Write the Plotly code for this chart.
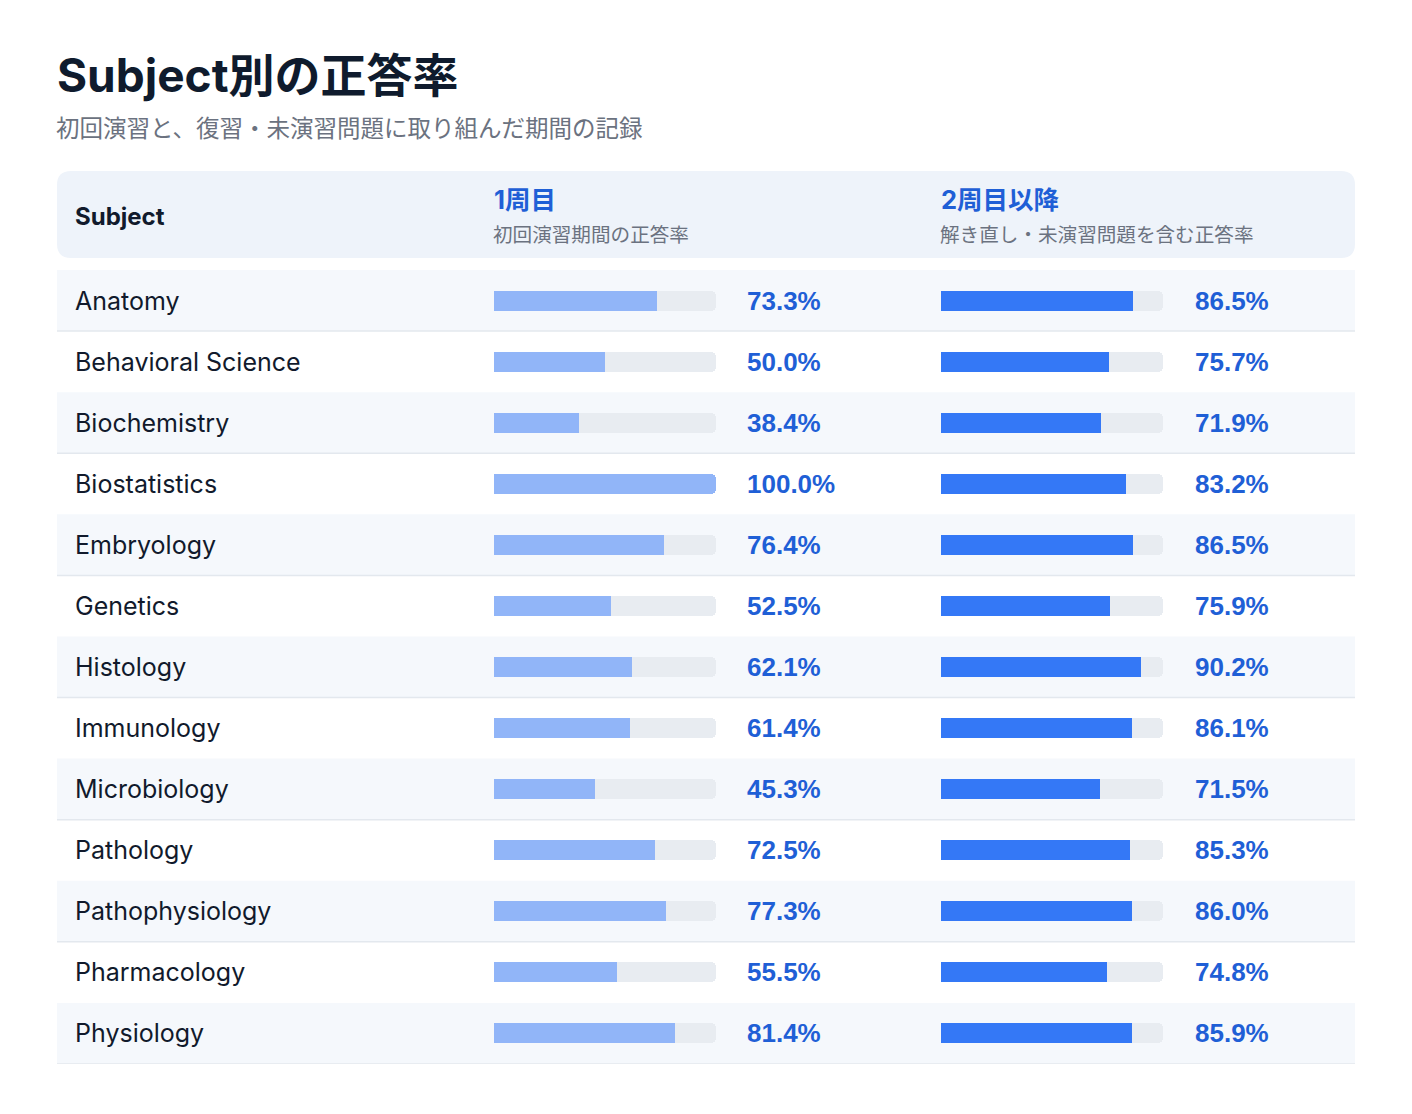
import plotly.graph_objects as go

W, H = 1412, 1114
OFF = 8  # the page body keeps an 8px margin round the figure

subjects = [
    "Anatomy", "Behavioral Science", "Biochemistry", "Biostatistics", "Embryology",
    "Genetics", "Histology", "Immunology", "Microbiology", "Pathology",
    "Pathophysiology", "Pharmacology", "Physiology",
]
first_round = [73.3, 50.0, 38.4, 100.0, 76.4, 52.5, 62.1, 61.4, 45.3, 72.5, 77.3, 55.5, 81.4]
later_rounds = [86.5, 75.7, 71.9, 83.2, 86.5, 75.9, 90.2, 86.1, 71.5, 85.3, 86.0, 74.8, 85.9]

title = "Subject別の正答率"
subtitle = "初回演習と、復習・未演習問題に取り組んだ期間の記録"
col_headers = ["1周目", "2周目以降"]
col_notes = ["初回演習期間の正答率", "解き直し・未演習問題を含む正答率"]

FONT = "Inter, 'Noto Sans CJK JP', sans-serif"
JP = "'Noto Sans CJK JP', Inter, sans-serif"
NUM = "'Liberation Sans', Arial, sans-serif"
DARK = "#111a2c"
GRAY = "#6b7280"
BLUE_TXT = "#1f5fd6"
TRACK = "#e8ecf1"
C1 = "#91b5f8"
C2 = "#3478f6"

FW, FH = W - 2 * OFF, H - 2 * OFF
PAD = 2  # annotation box padding, taken off text x positions


def px(x):
    return (x - OFF) / FW


def py(y):
    return 1 - (y - OFF) / FH


def round_rect(x0, y0, x1, y1, r):
    # rounded rectangle path in paper coords, built from pixel values
    rx, ry = r / FW, r / FH
    X0, X1, Y0, Y1 = px(x0), px(x1), py(y0), py(y1)
    return (
        f"M {X0 + rx},{Y0} L {X1 - rx},{Y0} Q {X1},{Y0} {X1},{Y0 - ry} "
        f"L {X1},{Y1 + ry} Q {X1},{Y1} {X1 - rx},{Y1} "
        f"L {X0 + rx},{Y1} Q {X0},{Y1} {X0},{Y1 + ry} "
        f"L {X0},{Y0 - ry} Q {X0},{Y0} {X0 + rx},{Y0} Z"
    )


n = len(subjects)
rows_top, rows_bottom = 270, 1064
bar_w = 20 / ((rows_bottom - rows_top) / n)

fig = go.Figure()
for axis, vals, color in [("x", first_round, C1), ("x2", later_rounds, C2)]:
    fig.add_trace(go.Bar(
        x=[100] * n, y=subjects, orientation="h", xaxis=axis, yaxis="y",
        width=bar_w, marker=dict(color=TRACK, cornerradius=5, line_width=0),
        hoverinfo="skip", showlegend=False,
    ))
    fig.add_trace(go.Bar(
        x=vals, y=subjects, orientation="h", xaxis=axis, yaxis="y",
        width=bar_w, marker=dict(color=color, cornerradius=5, line_width=0),
        showlegend=False,
    ))

shapes = [dict(type="path", xref="paper", yref="paper", path=round_rect(57, 171, 1355, 258, 14),
               fillcolor="#eef3fa", line_width=0, layer="below")]
for i in range(0, n, 2):
    shapes.append(dict(type="rect", xref="paper", yref="y", x0=px(57), x1=px(1355),
                       y0=i - 0.5, y1=i + 0.5, fillcolor="#f5f8fc", line_width=0, layer="below"))
    shapes.append(dict(type="line", xref="paper", yref="y", x0=px(57), x1=px(1355),
                       y0=i + 0.5, y1=i + 0.5, line=dict(color="#e3e8ee", width=1.5), layer="below"))

ann = [
    dict(text=f"<b>{title}</b>", x=px(55), y=py(75), font=dict(size=46, color="#0f1b2d", family=FONT)),
    dict(text=subtitle, x=px(56 - PAD), y=py(127), font=dict(size=23.5, color=GRAY, family=JP)),
    dict(text="<b>Subject</b>", x=px(75 - PAD), y=py(216), font=dict(size=24, color=DARK, family=FONT)),
]
for cx, head, note in zip([494, 941], col_headers, col_notes):
    ann.append(dict(text=f"<b>{head}</b>", x=px(cx - PAD), y=py(199), font=dict(size=25.5, color=BLUE_TXT, family=FONT)))
    ann.append(dict(text=note, x=px(cx - 1 - PAD), y=py(233), font=dict(size=19.6, color=GRAY, family=JP)))
for s, a, b in zip(subjects, first_round, later_rounds):
    ann.append(dict(text=s, x=px(75 - PAD), y=s, yref="y", font=dict(size=25, color=DARK, family=FONT)))
    ann.append(dict(text=f"<b>{a:.1f}%</b>", x=px(746 - 1), y=s, yref="y", font=dict(size=26, color=BLUE_TXT, family=NUM)))
    ann.append(dict(text=f"<b>{b:.1f}%</b>", x=px(1194 - 1), y=s, yref="y", font=dict(size=26, color=BLUE_TXT, family=NUM)))
for a_ in ann:
    a_.setdefault("xref", "paper")
    a_.setdefault("yref", "paper")
    a_.update(xanchor="left", yanchor="middle", showarrow=False)

axis_style = dict(range=[0, 100], visible=False, fixedrange=True)
fig.update_layout(
    width=FW, height=FH, margin=dict(l=0, r=0, t=0, b=0),
    paper_bgcolor="white", plot_bgcolor="rgba(0,0,0,0)",
    barmode="overlay", bargap=0, barcornerradius=5,
    xaxis=dict(domain=[px(494), px(716)], **axis_style),
    xaxis2=dict(domain=[px(941), px(1163)], **axis_style),
    yaxis=dict(domain=[py(rows_bottom), py(rows_top)], range=[n - 0.5, -0.5],
               visible=False, fixedrange=True),
    shapes=shapes, annotations=ann,
)

fig.write_html("out.html")
